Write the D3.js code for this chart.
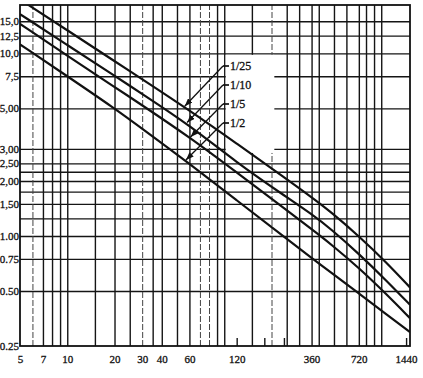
<!DOCTYPE html>
<html>
<head>
<meta charset="utf-8">
<script src="https://cdn.jsdelivr.net/npm/d3@7"></script>
<style>
  body { margin: 0; background: #fff; }
  svg text { font-family: "Liberation Serif", "DejaVu Serif", serif; fill: #111; stroke: #111; stroke-width: 0.3px; }
</style>
</head>
<body>
<div id="chart"></div>
<script>
// durations (min) at which the four curves were read
const durations = [5, 10, 20, 30, 60, 120, 240, 360, 480, 720, 1080, 1525];
// intensity for each frequency curve
const curve25 = [19.7, 13.4, 9.07, 7.22, 4.88, 3.21, 2.1, 1.63, 1.35, 1.0, 0.717, 0.523];
const curve10 = [16.4, 11.1, 7.55, 6.0, 4.05, 2.52, 1.67, 1.32, 1.09, 0.8, 0.57, 0.42];
const curve5 = [14.5, 9.7, 6.55, 5.2, 3.48, 2.23, 1.42, 1.09, 0.9, 0.67, 0.48, 0.355];
const curve2 = [11.2, 7.5, 5.0, 3.87, 2.49, 1.57, 0.99, 0.76, 0.63, 0.485, 0.373, 0.298];
const curveNames = ['1/25', '1/10', '1/5', '1/2'];

// grid + ticks
const yGrid = [15, 12.5, 10, 7.5, 5, 3, 2.5, 2.25, 2, 1.75, 1.5, 1.25, 1, 0.75, 0.5];
const yTickValues = [15, 12.5, 10, 7.5, 5, 3, 2.5, 2, 1.5, 1, 0.75, 0.5, 0.25];
const yTickLabels = ['15,0', '12,5', '10,0', '7,5', '5,00', '3,00', '2,50', '2,00', '1,50', '1.00', '0.75', '0.50', '0.25'];
const xGrid = [6, 7, 8, 9, 10, 15, 20, 25, 30, 35, 40, 50, 60, 70, 80, 90, 100, 150, 200, 250, 300, 360, 400, 500, 600, 720, 800, 900, 1000];
const xFaint = [6, 30, 70, 80, 200];
const xShortTicks = [120, 180, 240, 1440];
const xTickValues = [5, 7, 10, 20, 30, 40, 60, 120, 360, 720, 1440];

const width = 423, height = 378;
const plot = { left: 20, right: 410, top: 5, bottom: 346 };

const x = d3.scaleLog().domain([5, 1525]).range([plot.left, plot.right]);
const y = d3.scaleLog().domain([0.25, 18.4]).range([plot.bottom, plot.top]);

const svg = d3.select('#chart')
    .append('svg')
    .attr('width', width)
    .attr('height', height)
    ;

svg.append('defs')
    .append('clipPath')
    .attr('id', 'plot-clip')
    .append('rect')
    .attr('x', plot.left)
    .attr('y', plot.top)
    .attr('width', plot.right - plot.left)
    .attr('height', plot.bottom - plot.top)
    ;

svg.select('defs')
    .append('marker')
    .attr('id', 'arrow')
    .attr('viewBox', '0 0 8 6')
    .attr('refX', 8)
    .attr('refY', 3)
    .attr('markerWidth', 8)
    .attr('markerHeight', 6)
    .attr('markerUnits', 'userSpaceOnUse')
    .attr('orient', 'auto')
    .append('path')
    .attr('d', 'M0,0 L8,3 L0,6 z')
    .attr('fill', '#111')
    ;

// horizontal grid
svg.append('g')
    .attr('transform', `translate(${plot.left},0)`)
    .call(d3.axisLeft(y).tickValues(yGrid).tickSize(-(plot.right - plot.left)).tickFormat(''))
    .call(g => g.select('.domain').remove())
    .call(g => g.selectAll('line').attr('stroke', '#151515').attr('stroke-width', 1.4))
    ;

// vertical grid
svg.append('g')
    .attr('transform', `translate(0,${plot.bottom})`)
    .call(d3.axisBottom(x).tickValues(xGrid).tickSize(-(plot.bottom - plot.top)).tickFormat(''))
    .call(g => g.select('.domain').remove())
    .call(g => g.selectAll('line')
        .attr('stroke', d => xFaint.includes(d) ? '#444' : '#151515')
        .attr('stroke-width', d => xFaint.includes(d) ? 1 : 1.4)
        .attr('stroke-dasharray', d => xFaint.includes(d) ? '6,2' : null))
    ;

// short ticks along the bottom
svg.append('g')
    .attr('transform', `translate(0,${plot.bottom})`)
    .call(d3.axisBottom(x).tickValues(xShortTicks).tickSize(-8).tickFormat(''))
    .call(g => g.select('.domain').remove())
    .call(g => g.selectAll('line').attr('stroke', '#151515').attr('stroke-width', 1.4))
    ;

// blank patch behind the legend labels
svg.append('rect')
    .attr('x', x(100) + 1.5)
    .attr('y', y(10) + 1.5)
    .attr('width', x(210) - x(100) - 2)
    .attr('height', y(2.85) - y(10) - 1.5)
    .attr('fill', '#fff')
    ;

// frame
svg.append('rect')
    .attr('x', plot.left)
    .attr('y', plot.top)
    .attr('width', plot.right - plot.left)
    .attr('height', plot.bottom - plot.top)
    .attr('fill', 'none')
    .attr('stroke', '#111')
    .attr('stroke-width', 1.8)
    ;

// curves
const series = [curve25, curve10, curve5, curve2].map((vals, i) => ({
    name: curveNames[i],
    points: durations.map((d, j) => ({ t: d, v: vals[j] }))
}));

const line = d3.line()
    .x(d => x(d.t))
    .y(d => y(d.v))
    .curve(d3.curveBasis)
    ;

svg.append('g')
    .attr('clip-path', 'url(#plot-clip)')
    .selectAll('path')
    .data(series)
    .enter()
    .append('path')
    .attr('d', d => line(d.points))
    .attr('fill', 'none')
    .attr('stroke', '#111')
    .attr('stroke-width', 2.2)
    ;

// value of a curve at duration t (log-log interpolation)
function valueAt(points, t) {
    for (let i = 1; i < points.length; i++) {
        if (t <= points[i].t) {
            const a = points[i - 1], b = points[i];
            const f = (Math.log(t) - Math.log(a.t)) / (Math.log(b.t) - Math.log(a.t));
            return Math.exp(Math.log(a.v) + f * (Math.log(b.v) - Math.log(a.v)));
        }
    }
    return points[points.length - 1].v;
}

// legend: label, short tick and arrow down to its curve
const arrowAt = [56, 58, 61, 57];
const legendX = 223, legendY0 = 66, legendStep = 19;

const legend = svg.append('g');
series.forEach((s, i) => {
    const ly = legendY0 + i * legendStep;
    const tx = x(arrowAt[i]);
    const ty = y(valueAt(s.points, arrowAt[i])) - 1;
    legend.append('line')
        .attr('x1', legendX).attr('y1', ly)
        .attr('x2', legendX + 6).attr('y2', ly)
        .attr('stroke', '#111').attr('stroke-width', 1.7);
    legend.append('line')
        .attr('x1', legendX).attr('y1', ly)
        .attr('x2', tx).attr('y2', ty)
        .attr('stroke', '#111').attr('stroke-width', 1.3)
        .attr('marker-end', 'url(#arrow)');
    legend.append('text')
        .attr('x', legendX + 7)
        .attr('y', ly)
        .attr('dy', '0.35em')
        .style('font-size', '12px')
        .text(s.name);
});

// y labels
svg.append('g')
    .attr('transform', `translate(${plot.left},0)`)
    .call(d3.axisLeft(y).tickValues(yTickValues).tickSize(0).tickPadding(1)
        .tickFormat((d, i) => yTickLabels[i]))
    .call(g => g.select('.domain').remove())
    .call(g => g.selectAll('text').style('font-size', '11px'))
    ;

// x labels
svg.append('g')
    .attr('transform', `translate(0,${plot.bottom})`)
    .call(d3.axisBottom(x).tickValues(xTickValues).tickSize(0).tickPadding(9)
        .tickFormat(d => String(d)))
    .call(g => g.select('.domain').remove())
    .call(g => g.selectAll('text').style('font-size', '11px'))
    ;
</script>
</body>
</html>
